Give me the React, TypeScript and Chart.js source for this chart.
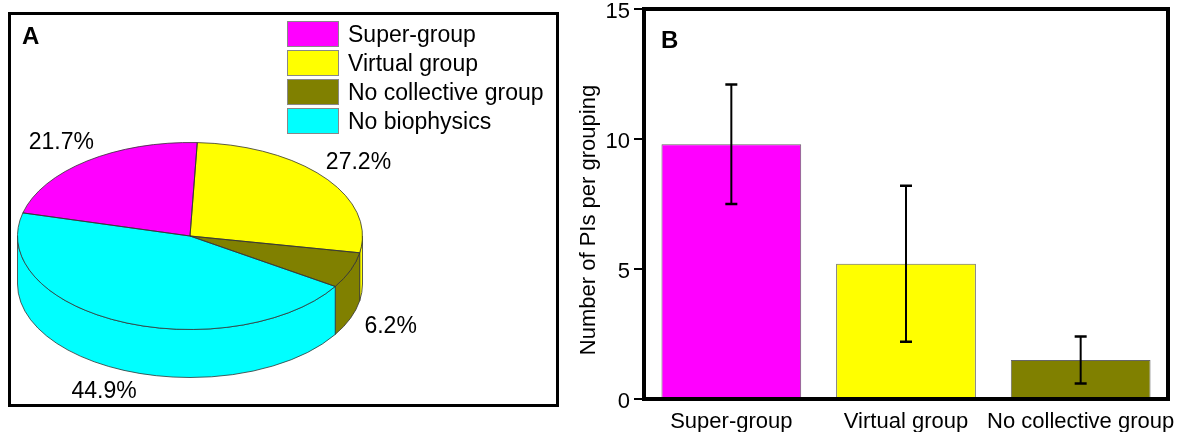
import React, { useEffect, useRef } from "react";
import { Chart, registerables } from "chart.js";

Chart.register(...registerables);

// ---------- Data ----------
const pieLabels = ["Super-group", "Virtual group", "No collective group", "No biophysics"];
const pieValues = [21.7, 27.2, 6.2, 44.9];
const pieColors = ["#FF00FF", "#FFFF00", "#808000", "#00FFFF"];
const pieValueLabels = ["21.7%", "27.2%", "6.2%", "44.9%"];

const barLabels = ["Super-group", "Virtual group", "No collective group"];
const barValues = [9.8, 5.2, 1.5];
const barErrLow = [7.5, 2.2, 0.6];
const barErrHigh = [12.1, 8.2, 2.4];
const barColors = ["#FF00FF", "#FFFF00", "#808000"];
const yTickValues = [0, 5, 10, 15];
const yAxisTitle = "Number of PIs per grouping";

const FONT = '"Liberation Sans", Arial, Helvetica, sans-serif';

// ---------- Pie (3D look) geometry ----------
const PIE_CX = 190;
const PIE_CY = 236;
const PIE_R = 172.5;
const PIE_RY = 93.5;
const PIE_DEPTH = 48;
const K = PIE_RY / PIE_R;

function ellipseTransform(ctx: CanvasRenderingContext2D, cx: number, cy: number) {
  ctx.translate(PIE_CX, PIE_CY);
  ctx.scale(1, K);
  ctx.translate(-cx, -cy);
}

const pie3d = {
  id: "pie3d",
  beforeDatasetsDraw(chart: any) {
    const ctx: CanvasRenderingContext2D = chart.ctx;
    const arcs = chart.getDatasetMeta(0).data;
    if (!arcs.length) return;
    const cx = arcs[0].x;
    const cy = arcs[0].y;
    const Dp = PIE_DEPTH / K;
    arcs.forEach((arc: any, i: number) => {
      const { startAngle, endAngle, outerRadius: R } = arc.getProps(
        ["startAngle", "endAngle", "outerRadius"],
        true
      );
      for (let n = -2; n <= 2; n++) {
        const a = Math.max(startAngle, n * 2 * Math.PI);
        const b = Math.min(endAngle, n * 2 * Math.PI + Math.PI);
        if (b <= a) continue;
        ctx.save();
        ellipseTransform(ctx, cx, cy);
        ctx.beginPath();
        ctx.arc(cx, cy, R, a, b);
        ctx.lineTo(cx + R * Math.cos(b), cy + Dp + R * Math.sin(b));
        ctx.arc(cx, cy + Dp, R, b, a, true);
        ctx.closePath();
        ctx.restore();
        ctx.fillStyle = arc.options.backgroundColor || pieColors[i];
        ctx.fill();
        ctx.lineWidth = 0.8;
        ctx.strokeStyle = "#333";
        ctx.stroke();
      }
    });
    ctx.save();
    ellipseTransform(ctx, cx, cy);
  },
  afterDatasetsDraw(chart: any) {
    const ctx: CanvasRenderingContext2D = chart.ctx;
    const arcs = chart.getDatasetMeta(0).data;
    if (!arcs.length) return;
    ctx.restore();
    const cx = arcs[0].x;
    const cy = arcs[0].y;
    arcs.forEach((arc: any) => {
      const { startAngle, endAngle, outerRadius: R } = arc.getProps(
        ["startAngle", "endAngle", "outerRadius"],
        true
      );
      ctx.save();
      ellipseTransform(ctx, cx, cy);
      ctx.beginPath();
      ctx.moveTo(cx, cy);
      ctx.arc(cx, cy, R, startAngle, endAngle);
      ctx.closePath();
      ctx.restore();
      ctx.lineWidth = 0.8;
      ctx.strokeStyle = "#333";
      ctx.stroke();
    });
    // value labels
    ctx.save();
    ctx.font = `23px ${FONT}`;
    ctx.fillStyle = "#000";
    ctx.textAlign = "center";
    ctx.textBaseline = "middle";
    arcs.forEach((arc: any, i: number) => {
      const { startAngle, endAngle, outerRadius: R } = arc.getProps(
        ["startAngle", "endAngle", "outerRadius"],
        true
      );
      const mid = (startAngle + endAngle) / 2;
      const s = Math.sin(mid);
      const lx = PIE_CX + 1.25 * R * Math.cos(mid);
      const ly = PIE_CY + 1.25 * R * K * s + (s > 0 ? PIE_DEPTH : 0);
      ctx.fillText(pieValueLabels[i], lx, ly);
    });
    ctx.restore();
  },
};

const barExtras = {
  id: "barExtras",
  afterDatasetsDraw(chart: any) {
    const ctx: CanvasRenderingContext2D = chart.ctx;
    const ca = chart.chartArea;
    const y = chart.scales.y;
    const meta = chart.getDatasetMeta(0);
    ctx.save();
    ctx.strokeStyle = "#000";
    meta.data.forEach((bar: any, i: number) => {
      const x = bar.x;
      const yl = y.getPixelForValue(barErrLow[i]);
      const yh = y.getPixelForValue(barErrHigh[i]);
      ctx.lineWidth = 2;
      ctx.beginPath();
      ctx.moveTo(x, yh);
      ctx.lineTo(x, yl);
      ctx.stroke();
      ctx.lineWidth = 2.5;
      ctx.beginPath();
      ctx.moveTo(x - 6, yh);
      ctx.lineTo(x + 6, yh);
      ctx.moveTo(x - 6, yl);
      ctx.lineTo(x + 6, yl);
      ctx.stroke();
    });
    ctx.lineWidth = 4;
    ctx.strokeRect(ca.left, ca.top, ca.right - ca.left, ca.bottom - ca.top);
    ctx.restore();

    // y-axis title (rotated), placed left of the tick labels
    ctx.save();
    ctx.translate(y.left + 19, (ca.top + ca.bottom) / 2 + 16);
    ctx.rotate(-Math.PI / 2);
    ctx.font = `22px ${FONT}`;
    ctx.fillStyle = "#000";
    ctx.textAlign = "center";
    ctx.textBaseline = "middle";
    ctx.fillText(yAxisTitle, 0, 0);
    ctx.restore();
  },
};

export default function App() {
  const pieRef = useRef<HTMLCanvasElement>(null);
  const barRef = useRef<HTMLCanvasElement>(null);

  useEffect(() => {
    const pie = new Chart(pieRef.current!, {
      type: "pie",
      data: {
        labels: pieLabels,
        datasets: [
          {
            data: pieValues,
            backgroundColor: pieColors,
            borderWidth: 0,
            radius: PIE_R,
            clip: false,
          } as any,
        ],
      },
      options: {
        animation: false,
        responsive: false,
        events: [],
        rotation: -75.7,
        layout: { padding: 0 },
        plugins: { legend: { display: false }, tooltip: { enabled: false } },
      },
      plugins: [pie3d],
    });

    const bar = new Chart(barRef.current!, {
      type: "bar",
      data: {
        labels: barLabels,
        datasets: [
          {
            data: barValues,
            backgroundColor: barColors,
            borderColor: "#666",
            borderWidth: 1,
            barPercentage: 0.8,
            categoryPercentage: 1.0,
          },
        ],
      },
      options: {
        animation: false,
        responsive: false,
        events: [],
        layout: { padding: { top: 9, right: 17, left: 0, bottom: 0 } },
        plugins: { legend: { display: false }, tooltip: { enabled: false } },
        scales: {
          x: {
            grid: { display: false, drawTicks: false },
            border: { display: false },
            ticks: {
              color: "#000",
              font: { family: FONT, size: 22 },
              padding: 10,
              minRotation: 0,
              maxRotation: 0,
              autoSkip: false,
            },
            afterFit: (s: any) => {
              s.height = 33;
              s.paddingLeft = 0;
              s.paddingRight = 0;
            },
          },
          y: {
            min: 0,
            max: 15,
            afterBuildTicks: (s: any) => {
              s.ticks = yTickValues.map((v) => ({ value: v }));
            },
            grid: {
              drawOnChartArea: false,
              drawTicks: true,
              tickLength: 10,
              color: "#000",
              lineWidth: 2,
            },
            border: { display: false },
            ticks: { color: "#000", font: { family: FONT, size: 22 }, padding: 4, labelOffset: 3 },
            title: { display: false },
            afterFit: (s: any) => {
              s.width = 74;
              s.paddingTop = 0;
              s.paddingBottom = 0;
            },
          },
        },
      },
      plugins: [barExtras],
    });

    return () => {
      pie.destroy();
      bar.destroy();
    };
  }, []);

  const legendRowTops = [21, 50, 79, 108];

  return (
    <div
      style={{
        position: "absolute",
        left: 0,
        top: 0,
        width: 1185,
        height: 432,
        background: "#fff",
        fontFamily: FONT,
        overflow: "hidden",
      }}
    >
      <canvas
        ref={pieRef}
        width={570}
        height={432}
        style={{ position: "absolute", left: 0, top: 0, width: 570, height: 432 }}
      />
      <canvas
        ref={barRef}
        width={615}
        height={432}
        style={{ position: "absolute", left: 570, top: 0, width: 615, height: 432 }}
      />
      <div
        style={{
          position: "absolute",
          left: 8,
          top: 12,
          width: 551,
          height: 395,
          border: "3px solid #000",
          boxSizing: "border-box",
        }}
      />
      <div
        style={{
          position: "absolute",
          left: 22,
          top: 22,
          fontSize: 24,
          fontWeight: "bold",
          lineHeight: "28px",
        }}
      >
        A
      </div>
      <div
        style={{
          position: "absolute",
          left: 661,
          top: 26,
          fontSize: 24,
          fontWeight: "bold",
          lineHeight: "28px",
        }}
      >
        B
      </div>
      {pieLabels.map((label, i) => (
        <div
          key={label}
          style={{
            position: "absolute",
            left: 287,
            top: legendRowTops[i],
            height: 26,
            display: "flex",
            alignItems: "center",
            whiteSpace: "nowrap",
          }}
        >
          <div
            style={{
              width: 52,
              height: 26,
              background: pieColors[i],
              border: "1px solid #888",
              boxSizing: "border-box",
            }}
          />
          <span style={{ marginLeft: 9, fontSize: 23, lineHeight: "26px", color: "#000" }}>
            {label}
          </span>
        </div>
      ))}
    </div>
  );
}
